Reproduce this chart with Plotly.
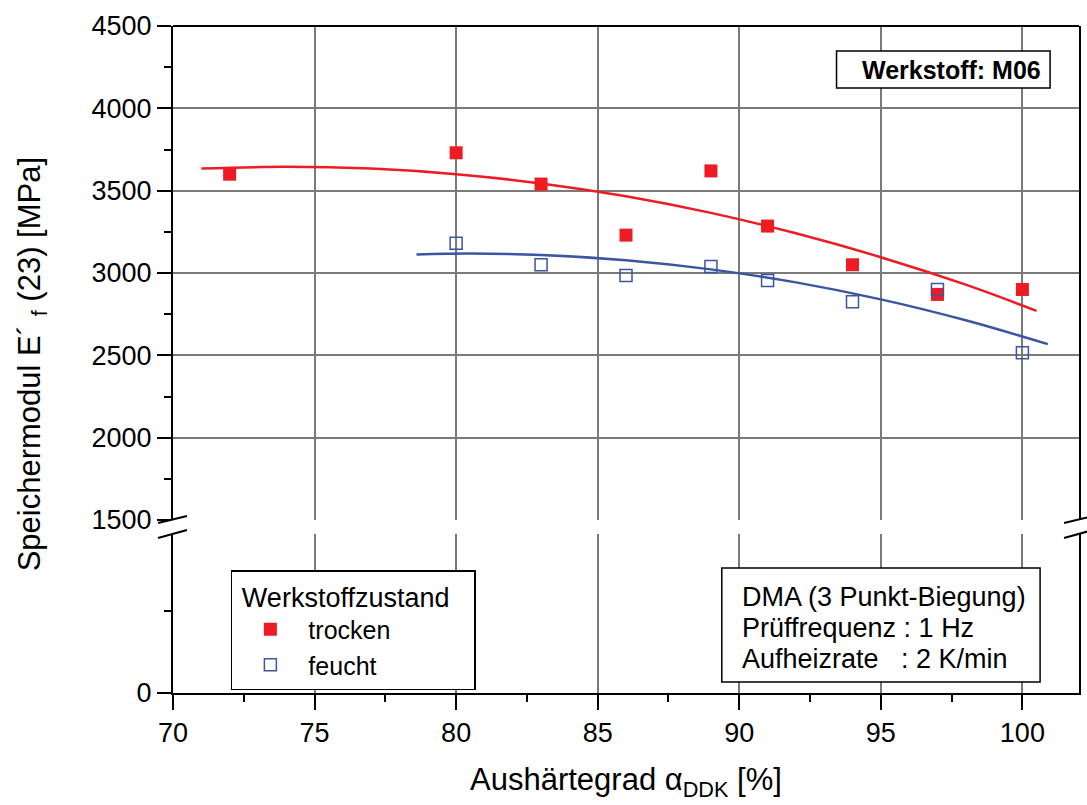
import plotly.graph_objects as go

# ---------------- data ----------------
alpha_trocken = [72, 80, 83, 86, 89, 91, 94, 97, 100]
E_trocken = [3600, 3730, 3540, 3230, 3620, 3285, 3050, 2870, 2900]

alpha_feucht = [80, 83, 86, 89, 91, 94, 97, 100]
E_feucht = [3180, 3050, 2985, 3040, 2955, 2825, 2900, 2515]

# fit curves
fit_trocken_x = [71, 74, 77, 80, 83, 86, 89, 92, 95, 98, 100.5]
fit_trocken_y = [3634, 3645, 3634, 3600, 3544, 3466, 3365, 3241, 3096, 2929, 2770]

fit_feucht_x = [78.6, 80.5, 83, 86, 89, 92, 95, 98, 100.9]
fit_feucht_y = [3113, 3118, 3110, 3078, 3022, 2943, 2840, 2713, 2568]

x_ticks = [70, 75, 80, 85, 90, 95, 100]
y_ticks_top = [1500, 2000, 2500, 3000, 3500, 4000, 4500]
y_ticks_bottom = [0]
y_minor_bottom = [500]

# ---------------- styling ----------------
RED = "#ed1c24"
BLUE = "#3b55a3"
GRID = "#7a7a7a"
FONT = "Liberation Sans, Arial, sans-serif"

W, H = 1087, 805
ML, MR, MT, MB = 173, 6, 26, 112
PW, PH = W - ML - MR, H - MT - MB


def px(xp):
    return (xp - ML) / PW


def py(yp):
    return (H - MB - yp) / PH


upper_bottom = py(520)
lower_top = py(534)

fig = go.Figure()

# empty trace registering the lower (0 .. break) subplot
fig.add_trace(go.Scatter(x=[], y=[], xaxis="x", yaxis="y", showlegend=False, hoverinfo="skip"))

fig.add_trace(go.Scatter(x=fit_trocken_x, y=fit_trocken_y, mode="lines",
                         line=dict(color=RED, width=2.5, shape="spline"),
                         xaxis="x", yaxis="y2", showlegend=False, hoverinfo="skip"))
fig.add_trace(go.Scatter(x=fit_feucht_x, y=fit_feucht_y, mode="lines",
                         line=dict(color=BLUE, width=2.5, shape="spline"),
                         xaxis="x", yaxis="y2", showlegend=False, hoverinfo="skip"))
fig.add_trace(go.Scatter(x=alpha_trocken, y=E_trocken, mode="markers", name="trocken",
                         marker=dict(symbol="square", size=13, color=RED, line=dict(width=0)),
                         xaxis="x", yaxis="y2"))
fig.add_trace(go.Scatter(x=alpha_feucht, y=E_feucht, mode="markers", name="feucht",
                         marker=dict(symbol="square-open", size=12, color=BLUE, line=dict(width=1.5, color=BLUE)),
                         xaxis="x", yaxis="y2"))

axis_common = dict(showline=True, linecolor="black", linewidth=2, ticks="outside",
                   tickwidth=2, tickcolor="black", tickfont=dict(family=FONT, size=27, color="black"),
                   zeroline=False)

fig.update_layout(
    width=W, height=H,
    margin=dict(l=ML, r=MR, t=MT, b=MB),
    paper_bgcolor="white", plot_bgcolor="white",
    font=dict(family=FONT, color="black"),
    xaxis=dict(range=[70, 102], tickvals=x_ticks, ticklen=15, anchor="y",
               showgrid=True, gridcolor=GRID, gridwidth=1.5,
               minor=dict(dtick=2.5, tick0=70, ticks="outside", ticklen=7, tickwidth=2,
                          tickcolor="black", showgrid=False),
               **axis_common),
    yaxis=dict(domain=[0, lower_top], range=[0, 965], tickvals=y_ticks_bottom, ticklen=14,
               anchor="x", mirror=True, showgrid=False,
               minor=dict(tickvals=y_minor_bottom, ticks="outside", ticklen=7, tickwidth=2,
                          tickcolor="black", showgrid=False),
               **axis_common),
    yaxis2=dict(domain=[upper_bottom, 1], range=[1500, 4500], tickvals=y_ticks_top, ticklen=14,
                anchor="x", mirror=True, showgrid=True, gridcolor=GRID, gridwidth=1.5,
                minor=dict(dtick=250, tick0=1500, ticks="outside", ticklen=7, tickwidth=2,
                           tickcolor="black", showgrid=False),
                **axis_common),
    legend=dict(x=px(231), y=py(570), xanchor="left", yanchor="top",
                bgcolor="white", bordercolor="black", borderwidth=1.5,
                font=dict(family=FONT, size=25, color="black"),
                title=dict(text="&nbsp;Werkstoffzustand&nbsp;&nbsp;&nbsp;",
                           font=dict(family=FONT, size=27, color="black")),
                itemwidth=66, tracegroupgap=0),
)

shapes = []
# top frame line
shapes.append(dict(type="line", xref="paper", yref="paper", x0=0, x1=1, y0=1, y1=1,
                   line=dict(color="black", width=2)))
# axis-break slashes on left and right
for xc in (ML, W - MR):
    for (ya, yb) in ((523, 516), (538, 530)):
        shapes.append(dict(type="line", xref="paper", yref="paper",
                           x0=px(xc - 15), x1=px(xc + 14), y0=py(ya), y1=py(yb),
                           line=dict(color="black", width=2)))
# info box
shapes.append(dict(type="rect", xref="paper", yref="paper", x0=px(723), x1=px(1042),
                   y0=py(682), y1=py(568), line=dict(color="black", width=1.5), fillcolor="white",
                   layer="above"))
# material box
shapes.append(dict(type="rect", xref="paper", yref="paper", x0=px(838), x1=px(1052),
                   y0=py(88), y1=py(51), line=dict(color="black", width=1.5), fillcolor="white",
                   layer="above"))
fig.update_layout(shapes=shapes)

annotations = []
info_lines = ["DMA (3 Punkt-Biegung)", "Prüffrequenz : 1 Hz", "Aufheizrate &nbsp; : 2 K/min"]
for txt, yc in zip(info_lines, (597, 628, 659)):
    annotations.append(dict(text=txt, xref="paper", yref="paper", x=px(741), y=py(yc),
                            xanchor="left", yanchor="middle", showarrow=False,
                            font=dict(family=FONT, size=27, color="black")))
annotations.append(dict(text="<b>Werkstoff: M06</b>", xref="paper", yref="paper", x=px(953), y=py(70),
                        xanchor="center", yanchor="middle", showarrow=False,
                        font=dict(family=FONT, size=25, color="black")))
annotations.append(dict(text="Aushärtegrad α<sub>DDK</sub> [%]", xref="paper", yref="paper",
                        x=0.5, y=py(782), xanchor="center", yanchor="middle", showarrow=False,
                        font=dict(family=FONT, size=31, color="black")))
annotations.append(dict(text="Speichermodul E´ <sub>f</sub> (23) [MPa]", xref="paper", yref="paper",
                        x=px(32), y=py(364), xanchor="center", yanchor="middle", showarrow=False,
                        textangle=-90, font=dict(family=FONT, size=31, color="black")))
fig.update_layout(annotations=annotations)

fig.write_html("out.html")
